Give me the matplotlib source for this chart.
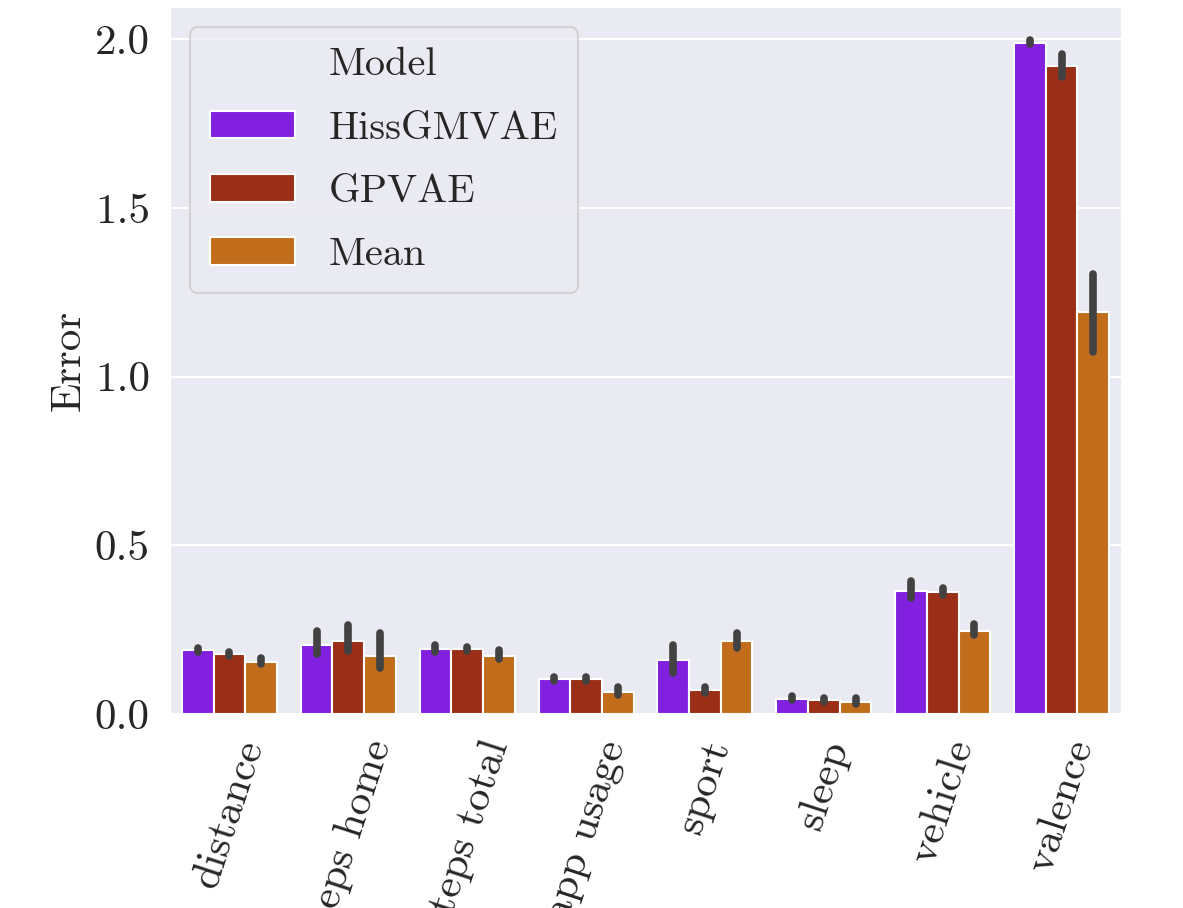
import numpy as np
import matplotlib
matplotlib.use("Agg")
import matplotlib.pyplot as plt
import seaborn as sns
from matplotlib.patches import Patch

sns.set_style("darkgrid")
plt.rcParams['font.family'] = ['cmr10', 'DejaVu Serif']
plt.rcParams['axes.formatter.use_mathtext'] = True
plt.rcParams['mathtext.fontset'] = 'cm'

features = ["distance", "steps home", "steps total", "app usage",
            "sport", "sleep", "vehicle", "valence"]
models = ["HissGMVAE", "GPVAE", "Mean"]
colors = ["#8220E0", "#9A2E16", "#C26D1C"]

# mean error per feature
hiss = [0.189, 0.204, 0.194, 0.103, 0.160, 0.045, 0.364, 1.990]
gpvae = [0.178, 0.216, 0.193, 0.104, 0.071, 0.040, 0.362, 1.920]
mean = [0.155, 0.172, 0.172, 0.064, 0.216, 0.036, 0.246, 1.191]

# confidence interval (low, high)
hiss_lo = [0.183, 0.178, 0.185, 0.097, 0.120, 0.040, 0.345, 1.985]
hiss_hi = [0.196, 0.246, 0.205, 0.110, 0.204, 0.053, 0.395, 1.998]
gpvae_lo = [0.172, 0.187, 0.187, 0.098, 0.062, 0.035, 0.354, 1.889]
gpvae_hi = [0.185, 0.263, 0.199, 0.110, 0.080, 0.046, 0.372, 1.956]
mean_lo = [0.147, 0.135, 0.164, 0.056, 0.197, 0.030, 0.234, 1.073]
mean_hi = [0.165, 0.241, 0.190, 0.081, 0.239, 0.046, 0.266, 1.305]

vals = [hiss, gpvae, mean]
los = [hiss_lo, gpvae_lo, mean_lo]
his = [hiss_hi, gpvae_hi, mean_hi]

fig = plt.figure(figsize=(11.83, 9.08), dpi=100)
ax = fig.add_axes([0.1437, 0.2137, 0.8039, 0.7786])

x = np.arange(len(features))
w = 0.8 / 3
for j in range(3):
    pos = x + (j - 1) * w
    ax.bar(pos, vals[j], width=w, color=colors[j], edgecolor="white",
           linewidth=1.5, zorder=2)
    for k in range(len(features)):
        ax.plot([pos[k], pos[k]], [los[j][k], his[j][k]], color="#424242",
                lw=5.5, solid_capstyle="round", zorder=3)

ax.set_xlim(-0.5, 7.5)
ax.set_ylim(0, 2.096)
ax.set_yticks([0.0, 0.5, 1.0, 1.5, 2.0])
ax.set_yticklabels(["0.0", "0.5", "1.0", "1.5", "2.0"])
ax.set_xticks(x)
ax.set_xticklabels(features, rotation=72)
ax.tick_params(axis="both", labelsize=31, colors="#262626")
ax.tick_params(axis="x", pad=12)
ax.tick_params(axis="y", pad=11)
ax.set_ylabel("Error", fontsize=31, color="#262626", labelpad=5)
ax.grid(axis="x", visible=False)
ax.grid(axis="y", color="white", lw=1.5)

handles = [Patch(visible=False)] + [Patch(facecolor=c, edgecolor="white", linewidth=1.5) for c in colors]
labels = ["Model"] + models
leg = ax.legend(handles, labels, loc="upper left", fontsize=29,
                bbox_to_anchor=(0.021, 0.971), borderaxespad=0,
                handlelength=2.1, handleheight=0.67, labelspacing=0.68,
                borderpad=0.5, handletextpad=0.85, frameon=True)
leg.get_frame().set_facecolor("#EAEAF2")
leg.get_frame().set_edgecolor("#CCCCCC")
leg.get_frame().set_linewidth(1.5)
for t in leg.get_texts():
    t.set_color("#262626")

fig.savefig("out.png", dpi=100)
